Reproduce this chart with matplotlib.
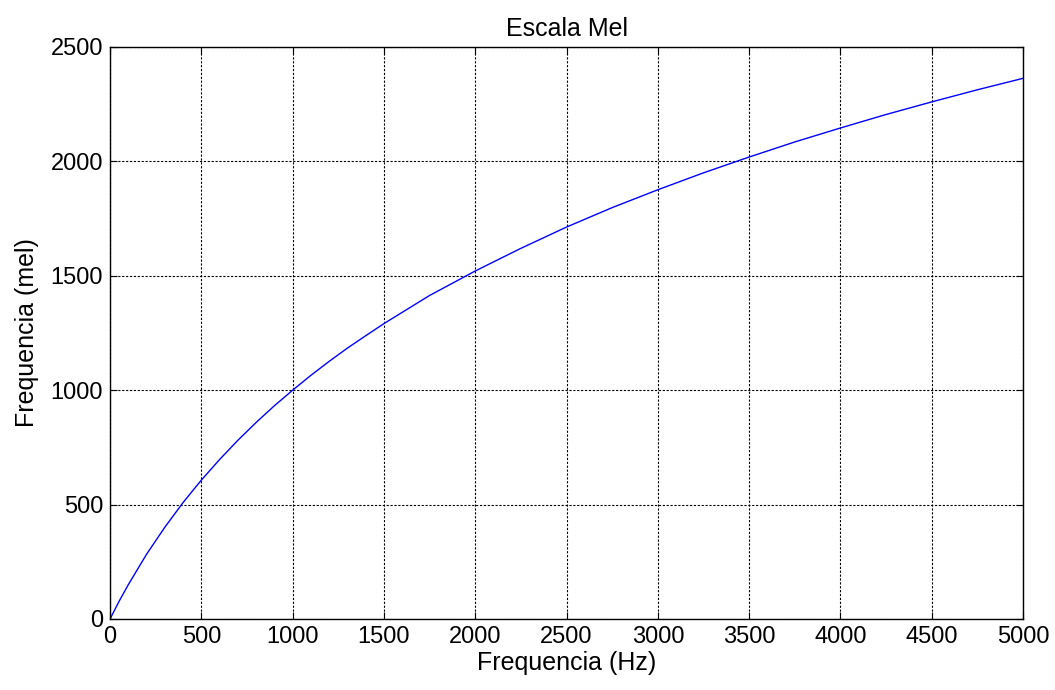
import matplotlib.pyplot as plt

plt.rcParams['font.family'] = ['Liberation Sans', 'DejaVu Sans']

# values
freq_hz = [0, 50, 100, 200, 300, 400, 500, 600, 700, 800, 900, 1000, 1100,
           1200, 1300, 1400, 1500, 1750, 2000, 2250, 2500, 2750, 3000,
           3250, 3500, 3750, 4000, 4250, 4500, 4750, 5000]
freq_mel = [0, 78, 150, 283, 401, 509, 607, 697, 781, 859, 932, 1000, 1065,
            1126, 1184, 1238, 1291, 1414, 1521, 1620, 1713, 1798, 1876,
            1950, 2019, 2085, 2146, 2205, 2260, 2313, 2363]
xticks = [0, 500, 1000, 1500, 2000, 2500, 3000, 3500, 4000, 4500, 5000]
yticks = [0, 500, 1000, 1500, 2000, 2500]

fig = plt.figure(figsize=(10.55, 6.9), dpi=100)
ax = fig.add_axes([0.1043, 0.1029, 0.8654, 0.829])
ax.plot(freq_hz, freq_mel, color='#0000ff', linewidth=1.0)
ax.set_xlim(0, 5000)
ax.set_ylim(0, 2500)
ax.set_xticks(xticks)
ax.set_yticks(yticks)
ax.grid(True, color='black', linestyle=(0, (2, 1.5)), linewidth=0.8)
ax.tick_params(direction='in', top=True, right=True, labelsize=17, length=5, pad=5)
for s in ax.spines.values():
    s.set_linewidth(1.0)
ax.set_title('Escala Mel', fontsize=18, pad=8)
ax.set_xlabel('Frequencia (Hz)', fontsize=18, labelpad=2)
ax.set_ylabel('Frequencia (mel)', fontsize=18, labelpad=8)

fig.savefig('out.png', dpi=100)
